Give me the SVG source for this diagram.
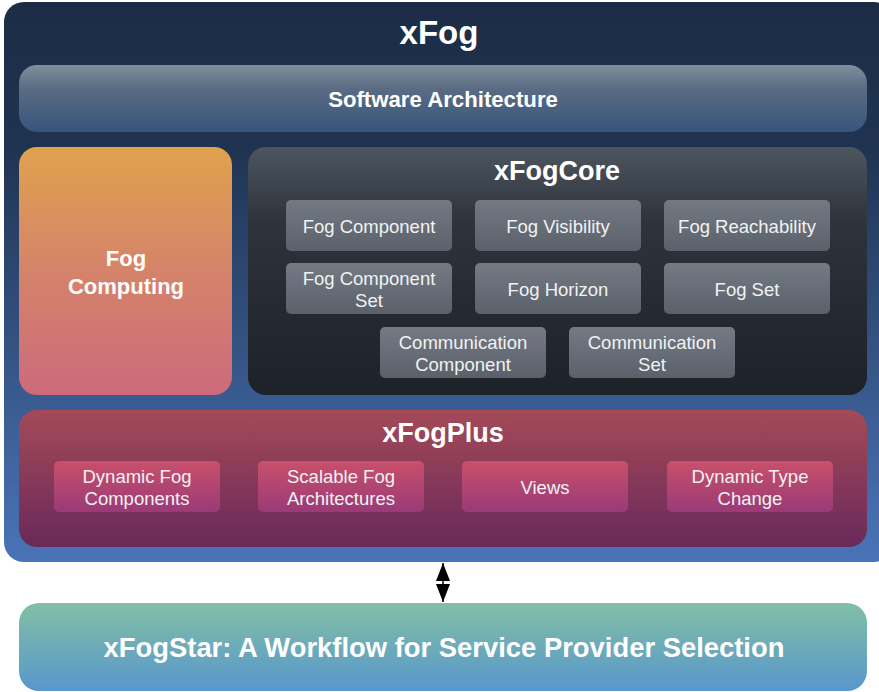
<svg xmlns="http://www.w3.org/2000/svg" width="879" height="692" viewBox="0 0 879 692">
<defs>
<linearGradient id="gOuter" x1="0" y1="0" x2="0" y2="1"><stop offset="0" stop-color="#1c2c46"/><stop offset="0.25" stop-color="#1f3350"/><stop offset="1" stop-color="#4a74b8"/></linearGradient>
<linearGradient id="gSA" x1="0" y1="0" x2="0" y2="1"><stop offset="0" stop-color="#818e9c"/><stop offset="0.35" stop-color="#5a6c84"/><stop offset="1" stop-color="#36557c"/></linearGradient>
<linearGradient id="gFC" x1="0" y1="0" x2="0" y2="1"><stop offset="0" stop-color="#e0a24e"/><stop offset="0.5" stop-color="#d5836a"/><stop offset="1" stop-color="#cc6a7c"/></linearGradient>
<linearGradient id="gCore" x1="0" y1="0" x2="0" y2="1"><stop offset="0" stop-color="#4d555f"/><stop offset="0.3" stop-color="#2e343c"/><stop offset="1" stop-color="#1d2128"/></linearGradient>
<linearGradient id="gCoreItem" x1="0" y1="0" x2="0" y2="1"><stop offset="0" stop-color="#737a84"/><stop offset="1" stop-color="#5b616a"/></linearGradient>
<linearGradient id="gPlus" x1="0" y1="0" x2="0" y2="1"><stop offset="0" stop-color="#a44a58"/><stop offset="1" stop-color="#6a295a"/></linearGradient>
<linearGradient id="gPlusItem" x1="0" y1="0" x2="0" y2="1"><stop offset="0" stop-color="#c8506a"/><stop offset="1" stop-color="#9a3a78"/></linearGradient>
<linearGradient id="gStar" x1="0" y1="0" x2="0" y2="1"><stop offset="0" stop-color="#82bfa4"/><stop offset="1" stop-color="#5897cd"/></linearGradient>
<marker id="ah" viewBox="0 0 18 14" refX="18" refY="7" markerWidth="18" markerHeight="14" markerUnits="userSpaceOnUse" orient="auto-start-reverse"><path d="M0,0 L18,7 L0,14 z" fill="#000"/></marker>
<style>
text{font-family:"Liberation Sans",Arial,sans-serif;fill:#fff;text-anchor:middle}
.b{font-weight:bold}
.t{font-size:18.5px;fill:#f2f2f2}
</style>
</defs>

<g id="xfog">
<rect x="4" y="2" width="890" height="560" rx="20" fill="url(#gOuter)"/>
<text class="b" x="439" y="44" font-size="33">xFog</text>
</g>

<g id="software-architecture">
<rect x="19" y="65" width="848" height="67" rx="18" fill="url(#gSA)"/>
<text class="b" x="443" y="107" font-size="22.2">Software Architecture</text>
</g>

<g id="fog-computing">
<rect x="19" y="147" width="213" height="248" rx="18" fill="url(#gFC)"/>
<text class="b" x="126" y="266" font-size="22">Fog</text>
<text class="b" x="126" y="294" font-size="22">Computing</text>
</g>

<g id="xfogcore">
<rect x="248" y="147" width="619" height="248" rx="18" fill="url(#gCore)"/>
<text class="b" x="557" y="180" font-size="27">xFogCore</text>
</g>

<g id="fog-component"><rect x="286" y="200" width="166" height="51" rx="5" fill="url(#gCoreItem)"/><text class="t" x="369" y="233">Fog Component</text></g>
<g id="fog-visibility"><rect x="475" y="200" width="166" height="51" rx="5" fill="url(#gCoreItem)"/><text class="t" x="558" y="233">Fog Visibility</text></g>
<g id="fog-reachability"><rect x="664" y="200" width="166" height="51" rx="5" fill="url(#gCoreItem)"/><text class="t" x="747" y="233">Fog Reachability</text></g>
<g id="fog-component-set"><rect x="286" y="263" width="166" height="51" rx="5" fill="url(#gCoreItem)"/><text class="t" x="369" y="285">Fog Component</text><text class="t" x="369" y="307">Set</text></g>
<g id="fog-horizon"><rect x="475" y="263" width="166" height="51" rx="5" fill="url(#gCoreItem)"/><text class="t" x="558" y="296">Fog Horizon</text></g>
<g id="fog-set"><rect x="664" y="263" width="166" height="51" rx="5" fill="url(#gCoreItem)"/><text class="t" x="747" y="296">Fog Set</text></g>
<g id="communication-component"><rect x="380" y="327" width="166" height="51" rx="5" fill="url(#gCoreItem)"/><text class="t" x="463" y="349">Communication</text><text class="t" x="463" y="371">Component</text></g>
<g id="communication-set"><rect x="569" y="327" width="166" height="51" rx="5" fill="url(#gCoreItem)"/><text class="t" x="652" y="349">Communication</text><text class="t" x="652" y="371">Set</text></g>

<g id="xfogplus">
<rect x="19" y="410" width="848" height="137" rx="18" fill="url(#gPlus)"/>
<text class="b" x="443" y="442" font-size="27">xFogPlus</text>
</g>

<g id="dynamic-fog-components"><rect x="54" y="461" width="166" height="51" rx="5" fill="url(#gPlusItem)"/><text class="t" x="137" y="483">Dynamic Fog</text><text class="t" x="137" y="505">Components</text></g>
<g id="scalable-fog-architectures"><rect x="258" y="461" width="166" height="51" rx="5" fill="url(#gPlusItem)"/><text class="t" x="341" y="483">Scalable Fog</text><text class="t" x="341" y="505">Architectures</text></g>
<g id="views"><rect x="462" y="461" width="166" height="51" rx="5" fill="url(#gPlusItem)"/><text class="t" x="545" y="494">Views</text></g>
<g id="dynamic-type-change"><rect x="667" y="461" width="166" height="51" rx="5" fill="url(#gPlusItem)"/><text class="t" x="750" y="483">Dynamic Type</text><text class="t" x="750" y="505">Change</text></g>

<g id="xfogstar">
<rect x="19" y="603" width="848" height="88" rx="20" fill="url(#gStar)"/>
<text class="b" x="444" y="657" font-size="27.4">xFogStar: A Workflow for Service Provider Selection</text>
</g>

<g id="connectors">
<line x1="443" y1="563" x2="443" y2="602" stroke="#000" stroke-width="1.5" marker-start="url(#ah)" marker-end="url(#ah)"/>
</g>
</svg>
